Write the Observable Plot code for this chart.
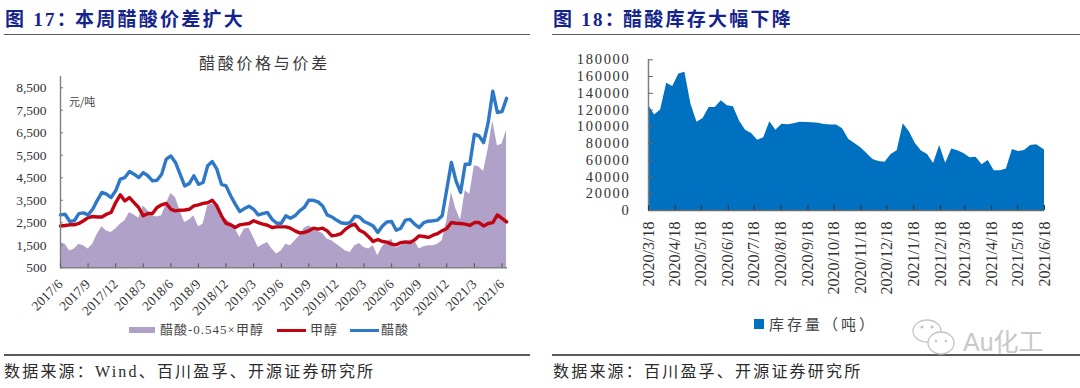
<!DOCTYPE html>
<html lang="zh"><head><meta charset="utf-8">
<script src="https://cdn.jsdelivr.net/npm/d3@7"></script>
<script src="https://cdn.jsdelivr.net/npm/@observablehq/plot@0.6"></script>
<style>
html,body{margin:0;padding:0;background:#fff;}
#page{position:relative;width:1080px;height:388px;overflow:hidden;background:#fff;}
#page svg{position:absolute;left:0;top:0;background:transparent;}
.t{position:absolute;white-space:nowrap;line-height:1 !important;}
.head{font:700 19px "Liberation Serif","Noto Sans CJK SC",serif;color:#14248c;letter-spacing:2.25px;}
.foot{font:16px "Liberation Serif","Noto Sans CJK SC",serif;color:#2b2b2b;letter-spacing:2.2px;}
.rule{position:absolute;height:1.5px;background:#5a5a5a;}
.sw{position:absolute;}
.leg{font:13px "Liberation Serif","Noto Sans CJK SC",serif;color:#444;letter-spacing:1px;}
.invY text{letter-spacing:1.7px;}
</style></head><body><div id="page"></div>
<script>
// Left chart: half-month samples from 2017/6 to 2021/6 (yuan/ton)
const acetic = [2850,2880,2560,2590,2910,2940,2850,3100,3500,3850,3770,3620,3920,4440,4510,4780,4660,4510,4730,4590,4360,4390,4660,5330,5470,5180,4660,4140,
4240,4590,4210,4290,5030,5220,4880,4210,4140,3700,3330,3000,3130,3240,3100,2850,2910,2960,2660,2480,2480,2810,2700,2810,3030,3180,3500,3500,
3430,3250,2850,2760,2620,2500,2470,2510,2790,2760,2560,2470,2360,2070,2360,2540,2560,2170,2260,2620,2650,2440,2290,2510,2570,2590,2620,2810,
3990,5180,4360,3850,5100,5100,6430,6360,6060,6950,8350,7400,7440,8030];
const methanol = [2360,2380,2410,2410,2470,2590,2730,2780,2760,2760,2880,2960,3400,3740,3470,3620,3400,3180,2810,2910,2910,3180,3300,3360,3100,3030,3060,3070,
3100,3250,3300,3360,3390,3500,3250,2810,2470,2410,2290,2410,2440,2470,2590,2510,2440,2390,2290,2320,2320,2320,2260,2140,2050,2070,2140,2260,
2220,2260,2140,1920,1950,2020,2220,2360,2440,2170,2070,1880,1670,1760,1670,1640,1550,1520,1620,1650,1620,1740,1920,1890,1850,1950,2020,2150,
2250,2510,2480,2470,2440,2380,2510,2510,2360,2470,2510,2850,2700,2540];
const spread = [1620,1550,1250,1330,1550,1480,1330,1550,1990,2320,2140,2070,2220,2440,2590,2960,2850,2700,3250,3030,2810,2760,2810,3330,3800,3620,3030,2510,
2620,2810,2320,2440,3250,3330,3180,2660,2660,2510,2220,1850,2220,2260,1850,1400,1520,1620,1330,1110,1250,1550,1480,1700,1920,2260,2360,2260,
2110,2020,1770,1700,1550,1400,1250,1180,1480,1580,1400,1330,1480,1030,1430,1620,1770,1370,1480,1650,1730,1700,1330,1430,1480,1480,1550,1700,
2590,3850,3100,2620,3920,3770,5030,4980,4780,5770,7030,5920,5990,6610];
const monthAxis = acetic.map((_, i) => i / 2);
const priceTicks = [500,1500,2500,3500,4500,5500,6500,7500,8500];
const monthLabels = ["2017/6","2017/9","2017/12","2018/3","2018/6","2018/9","2018/12","2019/3","2019/6","2019/9","2019/12","2020/3","2020/6","2020/9","2020/12","2021/3","2021/6"];
const labelPositions = monthLabels.map((_, i) => i * 3);

// Right chart: weekly inventory, from 2020/3/18 (tons)
const inventory = [126000,114000,120000,152000,148000,163000,165000,127000,105500,110000,123000,123000,131000,125000,124000,107000,96000,92000,84000,87000,106000,96000,103000,102500,
103500,105500,105000,104700,104300,102700,102000,102000,97500,85000,80000,75000,68000,61000,58500,57700,66900,71500,103500,94000,80000,71000,67000,56000,77600,56500,73600,71500,68000,63000,63700,54500,59800,47500,47500,49500,72800,70400,71600,77600,78400,72400];
const invStart = new Date(Date.UTC(2020, 2, 18));
const invTicks = [0,20000,40000,60000,80000,100000,120000,140000,160000,180000];
const dateLabels = ["2020/3/18","2020/4/18","2020/5/18","2020/6/18","2020/7/18","2020/8/18","2020/9/18","2020/10/18","2020/11/18","2020/12/18","2021/1/18","2021/2/18","2021/3/18","2021/4/18","2021/5/18","2021/6/18"];
const dateTicks = dateLabels.map(s => { const [y,m,d] = s.split("/").map(Number); return new Date(Date.UTC(y, m - 1, d)); });
const invEnd = dateTicks[dateTicks.length - 1];
const weekDates = inventory.map((_, i) => i === inventory.length - 1 ? invEnd : d3.utcDay.offset(invStart, 7 * i));

const serif = '"Liberation Serif","Noto Sans CJK SC",serif';
const page = document.getElementById("page");

const left = Plot.plot({
  width: 540, height: 340, marginLeft: 60, marginRight: 33, marginTop: 76, marginBottom: 72.7,
  style: {fontFamily: serif, background: "transparent", overflow: "visible"},
  x: {type: "linear", domain: [0, 48.6], label: null},
  y: {domain: [500, 9000], label: null},
  marks: [
    Plot.areaY(spread, {x: (_, i) => monthAxis[i], y1: 500, y2: d => d, fill: "#b0a1c8", curve: "linear"}),
    Plot.lineY(methanol, {x: (_, i) => monthAxis[i], y: d => d, stroke: "#c00412", strokeWidth: 3.4, curve: "linear"}),
    Plot.lineY(acetic, {x: (_, i) => monthAxis[i], y: d => d, stroke: "#2f78c8", strokeWidth: 3.4, curve: "linear"}),
    Plot.ruleX([0], {stroke: "#808080", strokeWidth: 1.4}),
    Plot.ruleY([500], {stroke: "#808080", strokeWidth: 1.4}),
    Plot.axisY({ticks: priceTicks, tickSize: 0, tickPadding: 14, tickFormat: d3.format(","), fontSize: 13.5, fill: "#333", label: null}),
    Plot.axisY({ticks: priceTicks, tickSize: -3, text: null, stroke: "#777", label: null}),
    Plot.axisX({ticks: labelPositions, tickSize: -4, text: null, stroke: "#555", label: null}),
    Plot.axisX({ticks: labelPositions, tickSize: 0, tickPadding: 14, tickRotate: -45, tickFormat: (_, i) => monthLabels[i], fontSize: 13.5, fill: "#333", label: null})
  ]
});
page.appendChild(left);

const right = Plot.plot({
  width: 1080, height: 340, marginLeft: 648, marginRight: 36, marginTop: 59.3, marginBottom: 130,
  style: {fontFamily: serif, background: "transparent", overflow: "visible"},
  x: {type: "utc", domain: [invStart, invEnd], label: null},
  y: {domain: [0, 180000], label: null},
  marks: [
    Plot.areaY(inventory, {x: (_, i) => weekDates[i], y1: 0, y2: d => d, fill: "#0070c0", curve: "linear"}),
    Plot.ruleX([invStart], {stroke: "#808080", strokeWidth: 1.5}),
    Plot.ruleY([0], {stroke: "#6a6a6a", strokeWidth: 1.5}),
    Plot.axisY({ticks: invTicks, tickSize: 0, tickPadding: 18, tickFormat: d => String(d), fontSize: 14.5, fill: "#333", label: null, className: "invY"}),
    Plot.axisY({ticks: invTicks, tickSize: -5, text: null, stroke: "#666", label: null}),
    Plot.axisX({ticks: dateTicks, tickSize: -5, text: null, stroke: "#333", label: null}),
    Plot.axisX({ticks: dateTicks, tickSize: 0, tickPadding: 11, tickRotate: -90, tickFormat: (_, i) => dateLabels[i], fontSize: 16, fill: "#333", label: null})
  ]
});
page.appendChild(right);

function text(s, x, cy, cls, extra) {
  const d = document.createElement("div");
  d.className = "t " + cls; d.textContent = s;
  d.style.left = x + "px";
  if (extra) Object.assign(d.style, extra);
  page.appendChild(d);
  const fs = parseFloat(getComputedStyle(d).fontSize);
  d.style.top = (cy - fs / 2) + "px";
  return d;
}
function box(x, y, w, h, color, cls) {
  const d = document.createElement("div");
  d.className = cls || "sw";
  Object.assign(d.style, {left: x + "px", top: y + "px", width: w + "px", height: h + "px", background: color});
  page.appendChild(d);
}
text("图 17：", 5, 19, "head");
text("本周醋酸价差扩大", 75, 19, "head");
text("图 18：", 553, 19, "head");
text("醋酸库存大幅下降", 623, 19, "head");
box(4, 33.5, 526, 1.5, "#5a5a5a", "rule");
box(552, 33.5, 528, 1.5, "#5a5a5a", "rule");
box(4, 354, 526, 1.5, "#5a5a5a", "rule");
box(552, 354, 528, 1.5, "#5a5a5a", "rule");
text("数据来源：Wind、百川盈孚、开源证券研究所", 4, 372, "foot");
text("数据来源：百川盈孚、开源证券研究所", 553, 372, "foot");

text("醋酸价格与价差", 199, 62, "", {font: '16px "Noto Sans CJK SC",sans-serif', color: "#3a3a3a", letterSpacing: "2.7px"});
text("元/吨", 69, 101, "", {font: '11px "Noto Sans CJK SC",sans-serif', color: "#444"});

box(129, 327, 26, 5.5, "#b0a1c8");
text("醋酸-0.545×甲醇", 160, 329.5, "leg");
box(277, 328.5, 29, 3, "#c00412");
text("甲醇", 310, 329.5, "leg");
box(350, 328.5, 29, 3, "#2f78c8");
text("醋酸", 381, 329.5, "leg");

box(754, 318.5, 10, 10, "#0070c0");
text("库存量（吨）", 769, 323, "", {font: '15px "Noto Sans CJK SC",sans-serif', color: "#444", letterSpacing: "3px"});

// watermark
text("Au化工", 963, 342, "", {font: '25px "Liberation Sans","Noto Sans CJK SC",sans-serif', color: "#c8c8c8"});
const ns = "http://www.w3.org/2000/svg";
const wm = document.createElementNS(ns, "svg");
wm.setAttribute("width", 1080); wm.setAttribute("height", 388);
wm.innerHTML = `<g fill="#fff" stroke="#c4c4c4" stroke-width="1.3">
<ellipse cx="927" cy="331" rx="14" ry="11"/><ellipse cx="941" cy="343" rx="13" ry="11"/></g>
<g fill="#c4c4c4"><circle cx="922" cy="327" r="1.6"/><circle cx="932" cy="327" r="1.6"/><circle cx="936" cy="341" r="1.3"/><circle cx="946" cy="341" r="1.3"/></g>`;
page.appendChild(wm);
</script></body></html>
